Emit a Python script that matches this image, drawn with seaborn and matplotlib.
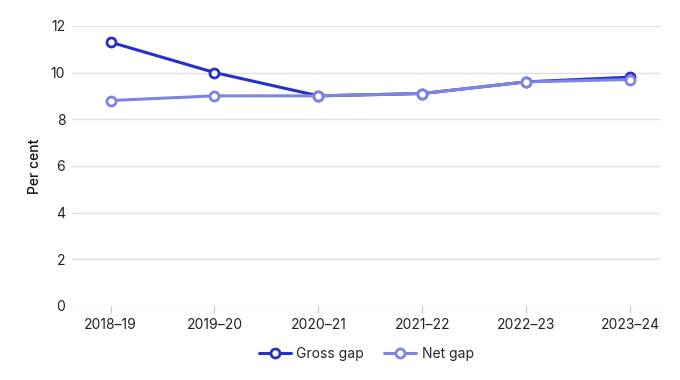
import matplotlib
matplotlib.use("Agg")
import matplotlib.pyplot as plt
from matplotlib.lines import Line2D
import seaborn as sns
import pandas as pd

years = ["2018–19", "2019–20", "2020–21", "2021–22", "2022–23", "2023–24"]
gross_gap = [11.3, 10.0, 9.0, 9.1, 9.6, 9.8]
net_gap = [8.8, 9.0, 9.0, 9.1, 9.6, 9.7]
series_names = ["Gross gap", "Net gap"]
colors = ["#2530c8", "#7f84e0"]
y_ticks = [0, 2, 4, 6, 8, 10, 12]

sns.set_theme(style="white")
plt.rcParams["font.family"] = ["Inter", "DejaVu Sans"]

df = pd.DataFrame({
    "year": years * 2,
    "value": gross_gap + net_gap,
    "series": [series_names[0]] * len(years) + [series_names[1]] * len(years),
})
df["x"] = list(range(len(years))) * 2

fig = plt.figure(figsize=(6.8, 3.8), dpi=100)
ax = fig.add_axes([0.106, 0.195, 0.865, 0.737])

line_kw = dict(linewidth=2.2, marker="o", markersize=6.5,
               markerfacecolor="white", markeredgewidth=2.0)
for i, (name, col) in enumerate(zip(series_names, colors)):
    sub = df[df["series"] == name]
    sns.lineplot(data=sub, x="x", y="value", ax=ax, color=col,
                 markeredgecolor=col, legend=False, zorder=3 + i, **line_kw)

ax.set_ylim(0, 12)
ax.set_yticks(y_ticks)
ax.set_xlim(-0.37, 5.29)
ax.set_xticks(range(len(years)))
ax.set_xticklabels(years)
ax.grid(axis="y", color="#e0e0e0", linewidth=1)
for s in ax.spines.values():
    s.set_visible(False)
ax.tick_params(axis="y", length=0, labelsize=10, colors="#222222", pad=5)
ax.tick_params(axis="x", length=5, width=1, color="#d0d0d0", labelsize=10,
               colors="#222222", pad=4, direction="out", bottom=True)
ax.set_xlabel("")
ax.set_ylabel("Per cent", fontsize=10, color="#111111", labelpad=6,
              fontweight="medium")

handles = [Line2D([], [], color=c, markeredgecolor=c, **line_kw) for c in colors]
ax.legend(handles, series_names,
          loc="center", bbox_to_anchor=(0.5, -0.17), ncol=2, frameon=False,
          fontsize=10, handlelength=2.3, columnspacing=1.45, handletextpad=0.4)

fig.savefig("out.png", dpi=100)
